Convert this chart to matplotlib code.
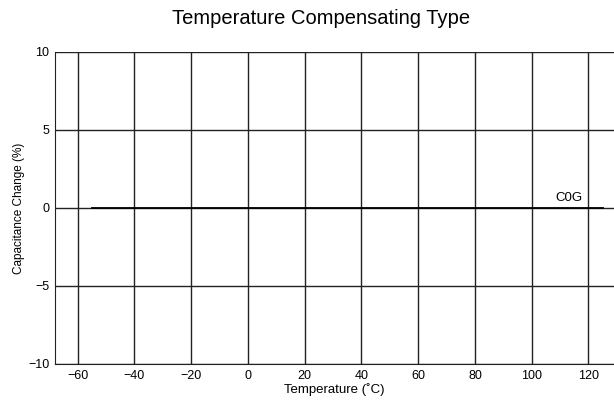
import matplotlib.pyplot as plt

plt.rcParams['font.family'] = ['Liberation Sans', 'DejaVu Sans']

# данные
temps = [-55, 125]
cap_change = [0, 0]
x_ticks = [-60, -40, -20, 0, 20, 40, 60, 80, 100, 120]
y_ticks = [-10, -5, 0, 5, 10]
series_name = "C0G"

fig = plt.figure(figsize=(6.14, 4.05), dpi=100)
ax = fig.add_axes([55 / 614, 41 / 405, 559 / 614, 312 / 405])

ax.set_xlim(-68, 129)
ax.set_ylim(-10, 10)
ax.set_xticks(x_ticks)
ax.set_yticks(y_ticks)
ax.grid(True, color="#222222", linewidth=1.0)
ax.set_axisbelow(True)

ax.plot(temps, cap_change, color="black", linewidth=1.3)
ax.text(118, 0.25, series_name, ha="right", va="bottom", fontsize=9.5)

for s in ["top", "right"]:
    ax.spines[s].set_visible(False)
for s in ["left", "bottom"]:
    ax.spines[s].set_color("#222222")

ax.tick_params(length=0, labelsize=9, pad=4)
ax.set_xlabel("Temperature (˚C)", fontsize=9.5, labelpad=1)
ax.set_ylabel("Capacitance Change (%)", fontsize=8.5, labelpad=2)

fig.suptitle("Temperature Compensating Type", x=321 / 614, y=1 - 19 / 405,
             va="center", fontsize=14.5)

fig.savefig("out.png", dpi=100)
